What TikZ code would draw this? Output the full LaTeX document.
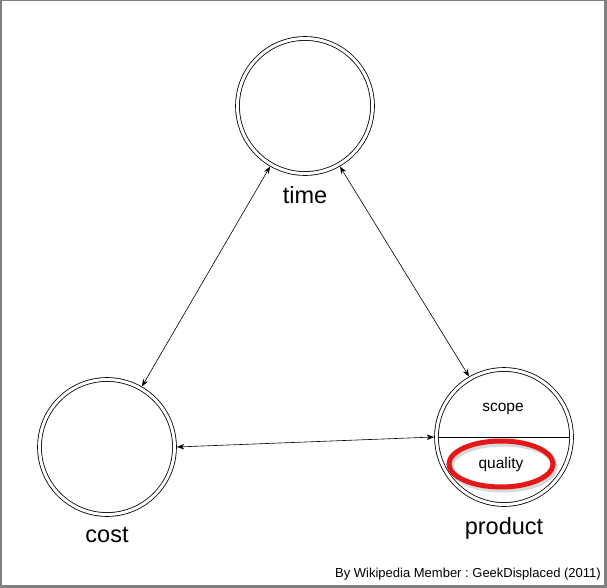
\documentclass[tikz,border=0pt]{standalone}
\usepackage{fontspec}
\setmainfont{Liberation Sans}
\usetikzlibrary{arrows.meta,positioning,shapes.geometric}

\definecolor{ringred}{RGB}{228,24,24}
\definecolor{framegray}{RGB}{128,128,128}
\frenchspacing

\begin{document}
\begin{tikzpicture}[x=1pt,y=-1pt,node distance=11pt,
		corner/.style={circle, draw=black, line width=0.8pt, double, double distance=3pt, minimum size=135pt, inner sep=0pt, outer sep=2.3pt},
		cornerlbl/.style={font=\fontsize{23.5}{28}\selectfont, inner sep=0pt, outer sep=0pt},
		partlbl/.style={font=\fontsize{15.5}{18}\selectfont, inner sep=0pt},
		ring/.style={ellipse, draw=ringred, line width=5pt, minimum width=104pt, minimum height=46pt, inner sep=0pt},
		link/.style={<->, >={Stealth[length=7.5pt,width=5.5pt]}, line width=0.6pt}
	]
	
	\useasboundingbox (0,0) rectangle (607,588);
	\fill[framegray] (0,0) rectangle (607,588);
	\fill[white] (2,1.5) rectangle (604,584.5);
	
	\node[corner] (time) at (305,106) {};
	\node[corner] (cost) at (107,447) {};
	\node[corner] (product) at (504,437) {};
	
	\node[cornerlbl] (timelbl) [below=of time] {time};
	\node[cornerlbl] (costlbl) [below=of cost] {cost};
	\node[cornerlbl] (productlbl) [below=of product] {product};
	
	\draw[line width=0.8pt] ([xshift=4.6pt]product.west) -- ([xshift=-4.6pt]product.east);
	
	\node[partlbl] (scope) at (503,409) {scope};
	
	\draw[black!25, line width=5pt, opacity=0.6] (503,467) ellipse (52 and 23);
	\node[ring, partlbl] (quality) at (501,464) {quality};
	
	\draw[link] (time.240) -- (cost.60);
	\draw[link] (time.300) -- (product.120);
	\draw[link] (cost.0) -- (product.180);
	
	\node[font=\fontsize{13}{15}\selectfont, inner sep=0pt, anchor=base east] (credit) at (601,577) {By Wikipedia Member : GeekDisplaced (2011)};
\end{tikzpicture}
\end{document}
